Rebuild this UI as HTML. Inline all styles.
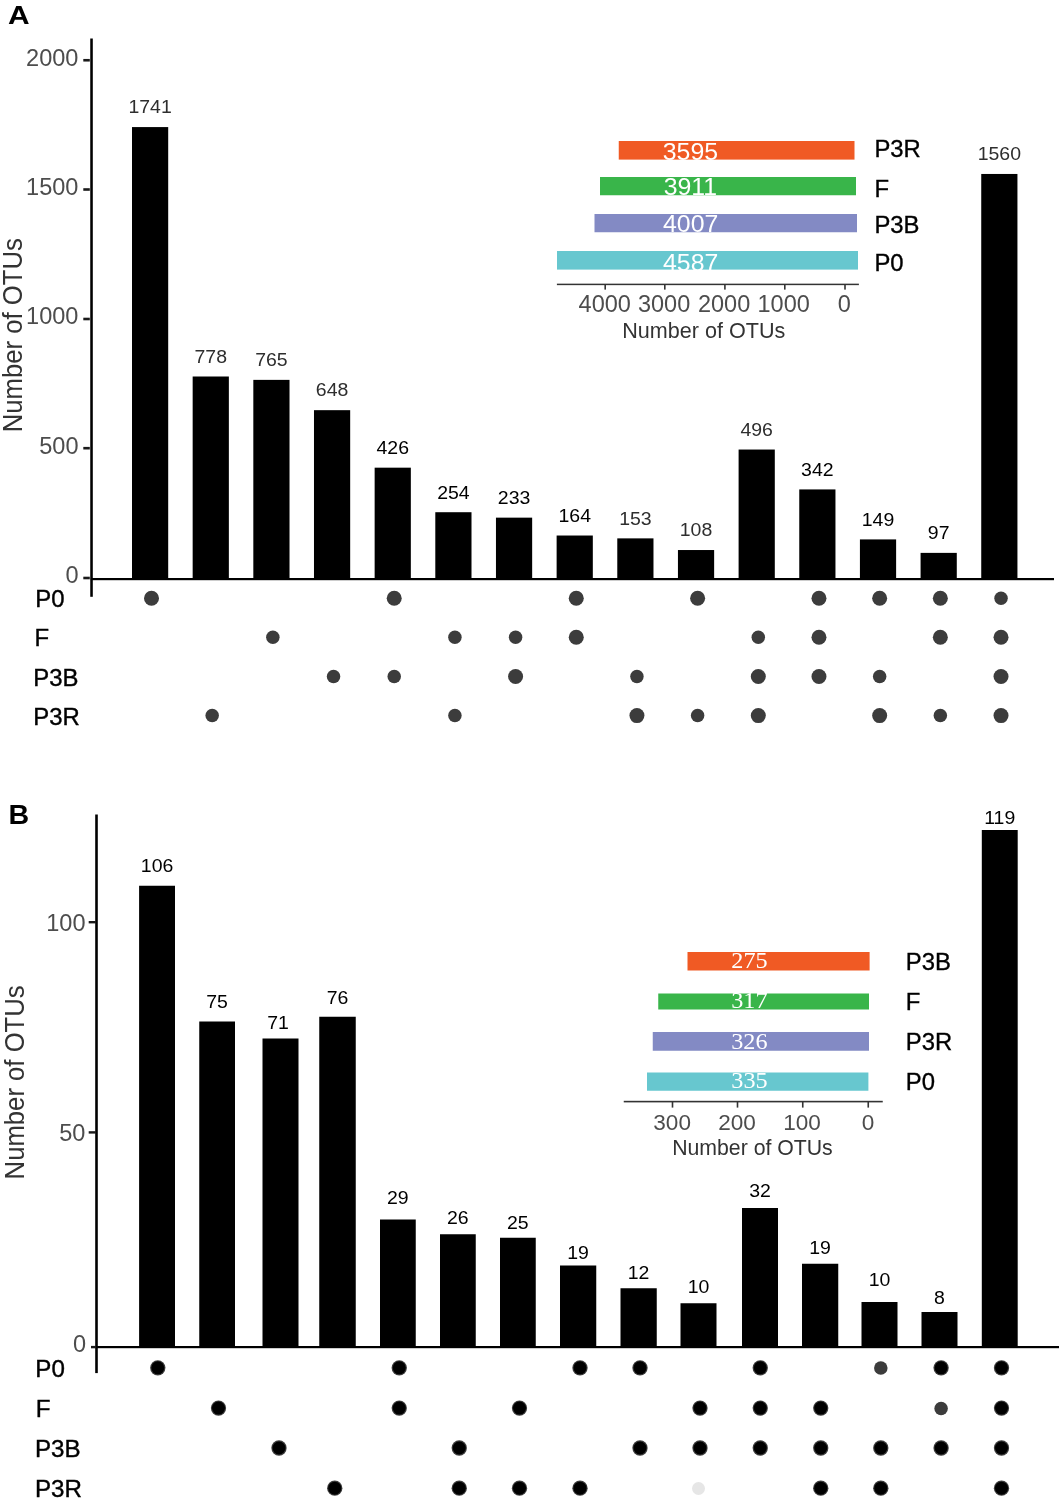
<!DOCTYPE html>
<html lang="en"><head><meta charset="utf-8"><title>UpSet plots of OTUs</title>
<style>
html,body{margin:0;padding:0;background:#fff;}
body{width:1063px;height:1501px;overflow:hidden;}
svg{display:block;will-change:transform;}
.s{font-family:"Liberation Sans",Arial,Helvetica,sans-serif;}
.t{font-family:"Liberation Serif","Times New Roman",Times,serif;}
</style></head><body>
<svg role="img" aria-label="UpSet plots of shared OTUs, panels A and B" width="1063" height="1501" viewBox="0 0 1063 1501">
<rect width="1063" height="1501" fill="#fff"/>
<g id="panel-a">
<text class="s" transform="translate(7.95,24.2) scale(1.16,1)" font-size="25.8" fill="#000" font-weight="bold">A</text>
<rect x="90.25" y="38.5" width="2.55" height="558.3" fill="#000"/>
<rect x="90.8" y="578" width="963.2" height="2.2" fill="#000"/>
<rect x="83.3" y="576.7" width="6.5" height="2.6" fill="#1a1a1a"/>
<text class="s" transform="translate(65.47,583) scale(0.99,1)" font-size="23.8" fill="#4d4d4d">0</text>
<rect x="83.3" y="446.9" width="6.5" height="2.6" fill="#1a1a1a"/>
<text class="s" transform="translate(39.18,454.1) scale(0.99,1)" font-size="23.8" fill="#4d4d4d">500</text>
<rect x="83.3" y="317.7" width="6.5" height="2.6" fill="#1a1a1a"/>
<text class="s" transform="translate(26.06,324.2) scale(0.99,1)" font-size="23.8" fill="#4d4d4d">1000</text>
<rect x="83.3" y="188.2" width="6.5" height="2.6" fill="#1a1a1a"/>
<text class="s" transform="translate(26.06,195.2) scale(0.99,1)" font-size="23.8" fill="#4d4d4d">1500</text>
<rect x="83.3" y="58.95" width="6.5" height="2.6" fill="#1a1a1a"/>
<text class="s" transform="translate(26.06,65.85) scale(0.99,1)" font-size="23.8" fill="#4d4d4d">2000</text>
<text class="s" transform="translate(22,432.32) rotate(-90) scale(1,1.06)" font-size="25.7" fill="#333333">Number of OTUs</text>
<rect x="132" y="127.08" width="36.2" height="451.42" fill="#000"/>
<text class="s" transform="translate(128.43,113.38) scale(1.02,1)" font-size="19.1" fill="#2e2e2e">1741</text>
<rect x="192.66" y="376.5" width="36.2" height="202" fill="#000"/>
<text class="s" transform="translate(194.51,362.8) scale(1.02,1)" font-size="19.1" fill="#2e2e2e">778</text>
<rect x="253.32" y="379.87" width="36.2" height="198.63" fill="#000"/>
<text class="s" transform="translate(255.17,366.17) scale(1.02,1)" font-size="19.1" fill="#2e2e2e">765</text>
<rect x="313.98" y="410.17" width="36.2" height="168.33" fill="#000"/>
<text class="s" transform="translate(315.83,396.47) scale(1.02,1)" font-size="19.1" fill="#2e2e2e">648</text>
<rect x="374.64" y="467.67" width="36.2" height="110.83" fill="#000"/>
<text class="s" transform="translate(376.49,453.97) scale(1.02,1)" font-size="19.1" fill="#000">426</text>
<rect x="435.3" y="512.21" width="36.2" height="66.29" fill="#000"/>
<text class="s" transform="translate(437.15,498.51) scale(1.02,1)" font-size="19.1" fill="#000">254</text>
<rect x="495.96" y="517.65" width="36.2" height="60.85" fill="#000"/>
<text class="s" transform="translate(497.81,503.95) scale(1.02,1)" font-size="19.1" fill="#000">233</text>
<rect x="556.62" y="535.52" width="36.2" height="42.98" fill="#000"/>
<text class="s" transform="translate(558.47,521.82) scale(1.02,1)" font-size="19.1" fill="#000">164</text>
<rect x="617.28" y="538.37" width="36.2" height="40.13" fill="#000"/>
<text class="s" transform="translate(619.13,524.67) scale(1.02,1)" font-size="19.1" fill="#2e2e2e">153</text>
<rect x="677.94" y="550.03" width="36.2" height="28.47" fill="#000"/>
<text class="s" transform="translate(679.79,536.33) scale(1.02,1)" font-size="19.1" fill="#2e2e2e">108</text>
<rect x="738.6" y="449.54" width="36.2" height="128.96" fill="#000"/>
<text class="s" transform="translate(740.45,435.84) scale(1.02,1)" font-size="19.1" fill="#2e2e2e">496</text>
<rect x="799.26" y="489.42" width="36.2" height="89.08" fill="#000"/>
<text class="s" transform="translate(801.11,475.72) scale(1.02,1)" font-size="19.1" fill="#000">342</text>
<rect x="859.92" y="539.41" width="36.2" height="39.09" fill="#000"/>
<text class="s" transform="translate(861.77,525.71) scale(1.02,1)" font-size="19.1" fill="#000">149</text>
<rect x="920.58" y="552.88" width="36.2" height="25.62" fill="#000"/>
<text class="s" transform="translate(927.84,539.18) scale(1.02,1)" font-size="19.1" fill="#000">97</text>
<rect x="981.24" y="173.96" width="36.2" height="404.54" fill="#000"/>
<text class="s" transform="translate(977.67,160.26) scale(1.02,1)" font-size="19.1" fill="#2e2e2e">1560</text>
<circle cx="151.5" cy="598.25" r="7.5" fill="#3c3c3c"/>
<circle cx="394.22" cy="598.25" r="7.5" fill="#3c3c3c"/>
<circle cx="576.26" cy="598.25" r="7.5" fill="#3c3c3c"/>
<circle cx="697.62" cy="598.25" r="7.5" fill="#3c3c3c"/>
<circle cx="818.98" cy="598.25" r="7.5" fill="#3c3c3c"/>
<circle cx="879.66" cy="598.25" r="7.5" fill="#3c3c3c"/>
<circle cx="940.34" cy="598.25" r="7.5" fill="#3c3c3c"/>
<circle cx="1001.02" cy="598.25" r="6.75" fill="#3c3c3c"/>
<circle cx="272.86" cy="637.25" r="6.75" fill="#3c3c3c"/>
<circle cx="454.9" cy="637.25" r="6.75" fill="#3c3c3c"/>
<circle cx="515.58" cy="637.25" r="6.75" fill="#3c3c3c"/>
<circle cx="576.26" cy="637.25" r="7.5" fill="#3c3c3c"/>
<circle cx="758.3" cy="637.25" r="6.75" fill="#3c3c3c"/>
<circle cx="818.98" cy="637.25" r="7.5" fill="#3c3c3c"/>
<circle cx="940.34" cy="637.25" r="7.5" fill="#3c3c3c"/>
<circle cx="1001.02" cy="637.25" r="7.5" fill="#3c3c3c"/>
<circle cx="333.54" cy="676.5" r="6.75" fill="#3c3c3c"/>
<circle cx="394.22" cy="676.5" r="6.75" fill="#3c3c3c"/>
<circle cx="515.58" cy="676.5" r="7.5" fill="#3c3c3c"/>
<circle cx="636.94" cy="676.5" r="6.75" fill="#3c3c3c"/>
<circle cx="758.3" cy="676.5" r="7.5" fill="#3c3c3c"/>
<circle cx="818.98" cy="676.5" r="7.5" fill="#3c3c3c"/>
<circle cx="879.66" cy="676.5" r="6.75" fill="#3c3c3c"/>
<circle cx="1001.02" cy="676.5" r="7.5" fill="#3c3c3c"/>
<circle cx="212.18" cy="715.6" r="6.75" fill="#3c3c3c"/>
<circle cx="454.9" cy="715.6" r="6.75" fill="#3c3c3c"/>
<circle cx="636.94" cy="715.6" r="7.5" fill="#3c3c3c"/>
<circle cx="697.62" cy="715.6" r="6.75" fill="#3c3c3c"/>
<circle cx="758.3" cy="715.6" r="7.5" fill="#3c3c3c"/>
<circle cx="879.66" cy="715.6" r="7.5" fill="#3c3c3c"/>
<circle cx="940.34" cy="715.6" r="6.75" fill="#3c3c3c"/>
<circle cx="1001.02" cy="715.6" r="7.5" fill="#3c3c3c"/>
<text class="s" transform="translate(35.23,607) scale(0.98,1)" font-size="24.4" fill="#000" stroke="#000" stroke-width="0.4">P0</text>
<text class="s" transform="translate(34.53,646.25) scale(0.98,1)" font-size="24.4" fill="#000" stroke="#000" stroke-width="0.4">F</text>
<text class="s" transform="translate(33.23,685.75) scale(0.98,1)" font-size="24.4" fill="#000" stroke="#000" stroke-width="0.4">P3B</text>
<text class="s" transform="translate(33.23,725) scale(0.98,1)" font-size="24.4" fill="#000" stroke="#000" stroke-width="0.4">P3R</text>
<g id="panel-a-set-sizes">
<rect x="618.75" y="141" width="235.75" height="18.6" fill="#f05a24"/>
<text class="s" transform="translate(662.74,160) scale(1.04,1)" font-size="23.9" fill="#fff">3595</text>
<text class="s" transform="translate(874.43,156.75) scale(0.99,1)" font-size="24.1" fill="#000" stroke="#000" stroke-width="0.35">P3R</text>
<rect x="600" y="177" width="256" height="18.25" fill="#39b54a"/>
<text class="s" transform="translate(663.73,194.9) scale(1.04,1)" font-size="23.9" fill="#fff">3911</text>
<text class="s" transform="translate(874.43,196.5) scale(0.99,1)" font-size="24.1" fill="#000" stroke="#000" stroke-width="0.35">F</text>
<rect x="594.5" y="214" width="262.5" height="18.25" fill="#838ac4"/>
<text class="s" transform="translate(663.05,232.25) scale(1.04,1)" font-size="23.9" fill="#fff">4007</text>
<text class="s" transform="translate(874.43,233.25) scale(0.99,1)" font-size="24.1" fill="#000" stroke="#000" stroke-width="0.35">P3B</text>
<rect x="557" y="251" width="301" height="18.6" fill="#67c7cf"/>
<text class="s" transform="translate(663.05,271.05) scale(1.04,1)" font-size="23.9" fill="#fff">4587</text>
<text class="s" transform="translate(874.43,270.75) scale(0.99,1)" font-size="24.1" fill="#000" stroke="#000" stroke-width="0.35">P0</text>
<rect x="556.9" y="283.65" width="302" height="1.5" fill="#333333"/>
<rect x="604.4" y="284.4" width="1.6" height="5.2" fill="#333333"/>
<text class="s" transform="translate(578.56,311.6) scale(1,1)" font-size="23.5" fill="#4d4d4d">4000</text>
<rect x="664" y="284.4" width="1.6" height="5.2" fill="#333333"/>
<text class="s" transform="translate(637.98,311.6) scale(1,1)" font-size="23.5" fill="#4d4d4d">3000</text>
<rect x="724.1" y="284.4" width="1.6" height="5.2" fill="#333333"/>
<text class="s" transform="translate(697.93,311.6) scale(1,1)" font-size="23.5" fill="#4d4d4d">2000</text>
<rect x="784" y="284.4" width="1.6" height="5.2" fill="#333333"/>
<text class="s" transform="translate(757.54,311.6) scale(1,1)" font-size="23.5" fill="#4d4d4d">1000</text>
<rect x="844.2" y="284.4" width="1.6" height="5.2" fill="#333333"/>
<text class="s" transform="translate(837.82,311.6) scale(1,1)" font-size="23.5" fill="#4d4d4d">0</text>
<text class="s" transform="translate(622.22,337.6) scale(0.99,1)" font-size="21.8" fill="#333333">Number of OTUs</text>
</g>
</g>
<g id="panel-b">
<text class="s" transform="translate(8.47,823.6) scale(1.06,1)" font-size="27" fill="#000" font-weight="bold">B</text>
<rect x="95.2" y="814.5" width="2.6" height="558.6" fill="#000"/>
<rect x="95.6" y="1346" width="963.4" height="2.2" fill="#000"/>
<rect x="88.7" y="921" width="7.3" height="2.4" fill="#1a1a1a"/>
<text class="s" transform="translate(46.18,930.8) scale(0.99,1)" font-size="23.8" fill="#4d4d4d">100</text>
<rect x="88.7" y="1131.2" width="7.3" height="2.4" fill="#1a1a1a"/>
<text class="s" transform="translate(59.15,1140.8) scale(0.99,1)" font-size="23.8" fill="#4d4d4d">50</text>
<rect x="91" y="1345.9" width="5" height="2.4" fill="#1a1a1a"/>
<text class="s" transform="translate(73.07,1352.2) scale(0.99,1)" font-size="23.8" fill="#4d4d4d">0</text>
<text class="s" transform="translate(24,1179.42) rotate(-90) scale(1,1.06)" font-size="25.7" fill="#333333">Number of OTUs</text>
<rect x="139.1" y="885.75" width="35.9" height="460.75" fill="#000"/>
<text class="s" transform="translate(140.8,871.55) scale(1.02,1)" font-size="19.1" fill="#000">106</text>
<rect x="199.25" y="1021.5" width="35.75" height="325" fill="#000"/>
<text class="s" transform="translate(206.29,1007.8) scale(1.02,1)" font-size="19.1" fill="#000">75</text>
<rect x="262.5" y="1038.5" width="36" height="308" fill="#000"/>
<text class="s" transform="translate(267.16,1028.55) scale(1.02,1)" font-size="19.1" fill="#000">71</text>
<rect x="319.25" y="1016.75" width="36.5" height="329.75" fill="#000"/>
<text class="s" transform="translate(326.66,1004.3) scale(1.02,1)" font-size="19.1" fill="#000">76</text>
<rect x="380" y="1219.5" width="35.75" height="127" fill="#000"/>
<text class="s" transform="translate(387.04,1204.05) scale(1.02,1)" font-size="19.1" fill="#000">29</text>
<rect x="440" y="1234.25" width="35.75" height="112.25" fill="#000"/>
<text class="s" transform="translate(447.04,1224.3) scale(1.02,1)" font-size="19.1" fill="#000">26</text>
<rect x="500" y="1237.75" width="35.75" height="108.75" fill="#000"/>
<text class="s" transform="translate(507.04,1228.8) scale(1.02,1)" font-size="19.1" fill="#000">25</text>
<rect x="560" y="1265.5" width="36.25" height="81" fill="#000"/>
<text class="s" transform="translate(567.29,1258.55) scale(1.02,1)" font-size="19.1" fill="#000">19</text>
<rect x="620.5" y="1288.25" width="36.25" height="58.25" fill="#000"/>
<text class="s" transform="translate(627.79,1279.05) scale(1.02,1)" font-size="19.1" fill="#000">12</text>
<rect x="680.5" y="1303.25" width="36" height="43.25" fill="#000"/>
<text class="s" transform="translate(687.66,1293.05) scale(1.02,1)" font-size="19.1" fill="#000">10</text>
<rect x="742" y="1208" width="36" height="138.5" fill="#000"/>
<text class="s" transform="translate(749.16,1197.3) scale(1.02,1)" font-size="19.1" fill="#000">32</text>
<rect x="802" y="1263.75" width="36.25" height="82.75" fill="#000"/>
<text class="s" transform="translate(809.29,1254.05) scale(1.02,1)" font-size="19.1" fill="#000">19</text>
<rect x="861.5" y="1302" width="36" height="44.5" fill="#000"/>
<text class="s" transform="translate(868.66,1286.05) scale(1.02,1)" font-size="19.1" fill="#000">10</text>
<rect x="921.5" y="1312" width="36" height="34.5" fill="#000"/>
<text class="s" transform="translate(934.08,1303.55) scale(1.02,1)" font-size="19.1" fill="#000">8</text>
<rect x="981.8" y="830" width="35.9" height="516.5" fill="#000"/>
<text class="s" transform="translate(984.22,824.3) scale(1.02,1)" font-size="19.1" fill="#000">119</text>
<circle cx="157.8" cy="1367.8" r="7.65" fill="#3c3c3c"/>
<circle cx="157.8" cy="1367.8" r="6.5" fill="#000"/>
<circle cx="399.25" cy="1367.8" r="7.65" fill="#3c3c3c"/>
<circle cx="399.25" cy="1367.8" r="6.5" fill="#000"/>
<circle cx="580" cy="1367.8" r="7.65" fill="#3c3c3c"/>
<circle cx="580" cy="1367.8" r="6.5" fill="#000"/>
<circle cx="640" cy="1367.8" r="7.65" fill="#3c3c3c"/>
<circle cx="640" cy="1367.8" r="6.5" fill="#000"/>
<circle cx="760.25" cy="1367.8" r="7.65" fill="#3c3c3c"/>
<circle cx="760.25" cy="1367.8" r="6.5" fill="#000"/>
<circle cx="880.8" cy="1368.1" r="6.75" fill="#3c3c3c"/>
<circle cx="941.1" cy="1367.8" r="7.65" fill="#3c3c3c"/>
<circle cx="941.1" cy="1367.8" r="6.5" fill="#000"/>
<circle cx="1001.5" cy="1367.8" r="7.65" fill="#3c3c3c"/>
<circle cx="1001.5" cy="1367.8" r="6.5" fill="#000"/>
<circle cx="218.5" cy="1408.1" r="7.65" fill="#3c3c3c"/>
<circle cx="218.5" cy="1408.1" r="6.5" fill="#000"/>
<circle cx="399.25" cy="1408.1" r="7.65" fill="#3c3c3c"/>
<circle cx="399.25" cy="1408.1" r="6.5" fill="#000"/>
<circle cx="519.5" cy="1408.1" r="7.65" fill="#3c3c3c"/>
<circle cx="519.5" cy="1408.1" r="6.5" fill="#000"/>
<circle cx="700" cy="1408.1" r="7.65" fill="#3c3c3c"/>
<circle cx="700" cy="1408.1" r="6.5" fill="#000"/>
<circle cx="760.25" cy="1408.1" r="7.65" fill="#3c3c3c"/>
<circle cx="760.25" cy="1408.1" r="6.5" fill="#000"/>
<circle cx="820.75" cy="1408.1" r="7.65" fill="#3c3c3c"/>
<circle cx="820.75" cy="1408.1" r="6.5" fill="#000"/>
<circle cx="941.1" cy="1408.4" r="6.75" fill="#3c3c3c"/>
<circle cx="1001.5" cy="1408.1" r="7.65" fill="#3c3c3c"/>
<circle cx="1001.5" cy="1408.1" r="6.5" fill="#000"/>
<circle cx="279" cy="1448" r="7.65" fill="#3c3c3c"/>
<circle cx="279" cy="1448" r="6.5" fill="#000"/>
<circle cx="459.25" cy="1448" r="7.65" fill="#3c3c3c"/>
<circle cx="459.25" cy="1448" r="6.5" fill="#000"/>
<circle cx="640" cy="1448" r="7.65" fill="#3c3c3c"/>
<circle cx="640" cy="1448" r="6.5" fill="#000"/>
<circle cx="700" cy="1448" r="7.65" fill="#3c3c3c"/>
<circle cx="700" cy="1448" r="6.5" fill="#000"/>
<circle cx="760.25" cy="1448" r="7.65" fill="#3c3c3c"/>
<circle cx="760.25" cy="1448" r="6.5" fill="#000"/>
<circle cx="820.75" cy="1448" r="7.65" fill="#3c3c3c"/>
<circle cx="820.75" cy="1448" r="6.5" fill="#000"/>
<circle cx="880.8" cy="1448" r="7.65" fill="#3c3c3c"/>
<circle cx="880.8" cy="1448" r="6.5" fill="#000"/>
<circle cx="941.1" cy="1448" r="7.65" fill="#3c3c3c"/>
<circle cx="941.1" cy="1448" r="6.5" fill="#000"/>
<circle cx="1001.5" cy="1448" r="7.65" fill="#3c3c3c"/>
<circle cx="1001.5" cy="1448" r="6.5" fill="#000"/>
<circle cx="334.75" cy="1488.2" r="7.65" fill="#3c3c3c"/>
<circle cx="334.75" cy="1488.2" r="6.5" fill="#000"/>
<circle cx="459.25" cy="1488.2" r="7.65" fill="#3c3c3c"/>
<circle cx="459.25" cy="1488.2" r="6.5" fill="#000"/>
<circle cx="519.5" cy="1488.2" r="7.65" fill="#3c3c3c"/>
<circle cx="519.5" cy="1488.2" r="6.5" fill="#000"/>
<circle cx="580" cy="1488.2" r="7.65" fill="#3c3c3c"/>
<circle cx="580" cy="1488.2" r="6.5" fill="#000"/>
<circle cx="698.5" cy="1488.5" r="6.5" fill="#e6e6e6"/>
<circle cx="820.75" cy="1488.2" r="7.65" fill="#3c3c3c"/>
<circle cx="820.75" cy="1488.2" r="6.5" fill="#000"/>
<circle cx="880.8" cy="1488.2" r="7.65" fill="#3c3c3c"/>
<circle cx="880.8" cy="1488.2" r="6.5" fill="#000"/>
<circle cx="1001.5" cy="1488.2" r="7.65" fill="#3c3c3c"/>
<circle cx="1001.5" cy="1488.2" r="6.5" fill="#000"/>
<text class="s" transform="translate(35.3,1376.75) scale(0.99,1)" font-size="24.4" fill="#000" stroke="#000" stroke-width="0.4">P0</text>
<text class="s" transform="translate(35.8,1416.75) scale(0.99,1)" font-size="24.4" fill="#000" stroke="#000" stroke-width="0.4">F</text>
<text class="s" transform="translate(35,1456.75) scale(0.99,1)" font-size="24.4" fill="#000" stroke="#000" stroke-width="0.4">P3B</text>
<text class="s" transform="translate(35,1496.5) scale(0.99,1)" font-size="24.4" fill="#000" stroke="#000" stroke-width="0.4">P3R</text>
<g id="panel-b-set-sizes">
<rect x="687.5" y="952" width="182.1" height="18.5" fill="#f05a24"/>
<text class="t" transform="translate(731.37,968.4) scale(1.05,1)" font-size="23.1" fill="#fff">275</text>
<text class="s" transform="translate(905.73,969.5) scale(0.99,1)" font-size="24.1" fill="#000" stroke="#000" stroke-width="0.35">P3B</text>
<rect x="658.25" y="993.5" width="210.75" height="16" fill="#39b54a"/>
<text class="t" transform="translate(731.21,1008.4) scale(1.05,1)" font-size="23.1" fill="#fff">317</text>
<text class="s" transform="translate(905.73,1009.5) scale(0.99,1)" font-size="24.1" fill="#000" stroke="#000" stroke-width="0.35">F</text>
<rect x="652.75" y="1032" width="216.25" height="18.75" fill="#838ac4"/>
<text class="t" transform="translate(731.21,1048.65) scale(1.05,1)" font-size="23.1" fill="#fff">326</text>
<text class="s" transform="translate(905.73,1050) scale(0.99,1)" font-size="24.1" fill="#000" stroke="#000" stroke-width="0.35">P3R</text>
<rect x="647" y="1072.5" width="221.4" height="18.25" fill="#67c7cf"/>
<text class="t" transform="translate(731.34,1088.4) scale(1.05,1)" font-size="23.1" fill="#fff">335</text>
<text class="s" transform="translate(905.73,1089.5) scale(0.99,1)" font-size="24.1" fill="#000" stroke="#000" stroke-width="0.35">P0</text>
<rect x="623.75" y="1100.8" width="259" height="1.6" fill="#333333"/>
<rect x="671.7" y="1101.6" width="1.6" height="6" fill="#333333"/>
<text class="s" transform="translate(653.3,1129.8) scale(0.99,1)" font-size="22.8" fill="#4d4d4d">300</text>
<rect x="736.7" y="1101.6" width="1.6" height="6" fill="#333333"/>
<text class="s" transform="translate(718.16,1129.8) scale(0.99,1)" font-size="22.8" fill="#4d4d4d">200</text>
<rect x="801.95" y="1101.6" width="1.6" height="6" fill="#333333"/>
<text class="s" transform="translate(783.13,1129.8) scale(0.99,1)" font-size="22.8" fill="#4d4d4d">100</text>
<rect x="867.45" y="1101.6" width="1.6" height="6" fill="#333333"/>
<text class="s" transform="translate(861.63,1129.8) scale(0.99,1)" font-size="22.8" fill="#4d4d4d">0</text>
<text class="s" transform="translate(672.14,1154.6) scale(0.98,1)" font-size="21.7" fill="#333333">Number of OTUs</text>
</g>
</g>
</svg>
</body></html>
